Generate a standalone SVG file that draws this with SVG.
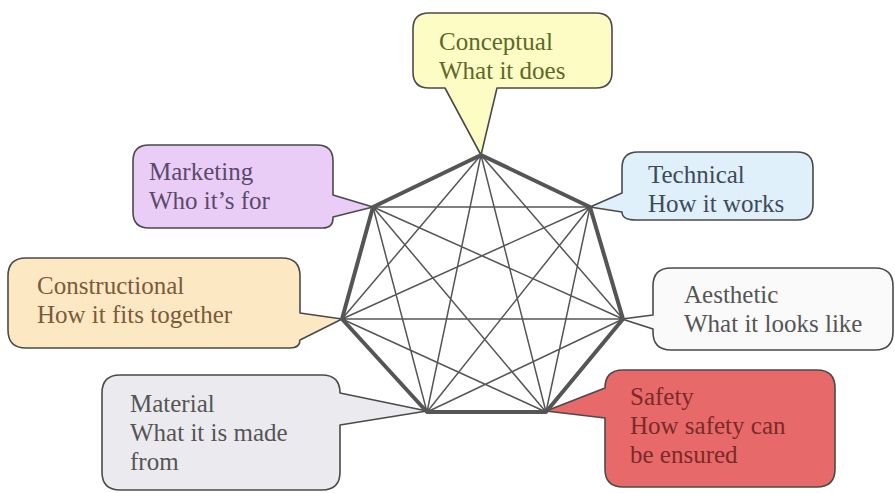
<svg xmlns="http://www.w3.org/2000/svg" width="895" height="493" viewBox="0 0 895 493">
<style>
.b{stroke:#4a4a4a;stroke-width:1.6;stroke-linejoin:round}
.t{font-family:'Liberation Serif','Times New Roman',serif;font-size:25px}
.edge{stroke:#555;stroke-width:4;fill:none;stroke-linejoin:round}
.diag{stroke:#555;stroke-width:1.5;fill:none}
</style>
<rect width="895" height="493" fill="#fff"/>
<g id="conceptual">
<path class="b" fill="#fcfcc4" d="M429,13 H596 Q612,13 612,29 V72 Q612,88 596,88 H497 L481,155 L445,88 H429 Q413,88 413,72 V29 Q413,13 429,13 Z"/>
<text class="t" x="439" y="50" fill="#5c6a28">Conceptual</text>
<text class="t" x="439" y="79" fill="#5c6a28">What it does</text>
</g>
<g id="marketing">
<path class="b" fill="#e9cdf7" d="M149,145 H317 Q333,145 333,161 V195 L373,207 L333,217 V218 Q333,228 323,228 H149 Q133,228 133,212 V161 Q133,145 149,145 Z"/>
<text class="t" x="149" y="180" fill="#5a4a6a">Marketing</text>
<text class="t" x="149" y="209" fill="#5a4a6a">Who it&#8217;s for</text>
</g>
<g id="technical">
<path class="b" fill="#dff0fb" d="M638,152 H797 Q813,152 813,168 V204 Q813,220 797,220 H636 Q622,220 622,212 L590,207 L622,193 V168 Q622,152 638,152 Z"/>
<text class="t" x="648" y="183" fill="#3d4a5a">Technical</text>
<text class="t" x="648" y="212" fill="#3d4a5a">How it works</text>
</g>
<g id="constructional">
<path class="b" fill="#fde8c4" d="M26,258 H282 Q300,258 300,276 V313 L342,319 L300,340 Q300,348 290,348 H26 Q8,348 8,330 V276 Q8,258 26,258 Z"/>
<text class="t" x="37" y="294" fill="#7a5a3a">Constructional</text>
<text class="t" x="37" y="323" fill="#7a5a3a">How it fits together</text>
</g>
<g id="aesthetic">
<path class="b" fill="#fafafa" d="M671,268 H875 Q893,268 893,286 V332 Q893,350 875,350 H671 Q653,350 653,332 V329 L622,319 L653,315 V286 Q653,268 671,268 Z"/>
<text class="t" x="684" y="303" fill="#555555">Aesthetic</text>
<text class="t" x="684" y="332" fill="#555555">What it looks like</text>
</g>
<g id="material">
<path class="b" fill="#ebebef" d="M120,375 H322 Q340,375 340,393 L427,411 L340,425 V472 Q340,490 322,490 H120 Q102,490 102,472 V393 Q102,375 120,375 Z"/>
<text class="t" x="130" y="412" fill="#555555">Material</text>
<text class="t" x="130" y="441" fill="#555555">What it is made</text>
<text class="t" x="130" y="470" fill="#555555">from</text>
</g>
<g id="safety">
<path class="b" fill="#e8696a" d="M623,370 H817 Q835,370 835,388 V469 Q835,487 817,487 H623 Q605,487 605,469 V418 L546,411 L605,388 Q605,370 623,370 Z"/>
<text class="t" x="630" y="405" fill="#7a2a28">Safety</text>
<text class="t" x="630" y="434" fill="#7a2a28">How safety can</text>
<text class="t" x="630" y="463" fill="#7a2a28">be ensured</text>
</g>
<g id="connectors">
<path class="diag" d="M481,155 L623,319 M481,155 L546,412 M481,155 L427,412 M481,155 L342,319 M590,207 L373,207 M590,207 L342,319 M590,207 L427,412 M590,207 L546,412 M623,319 L342,319 M623,319 L373,207 M623,319 L427,412 M546,412 L373,207 M546,412 L342,319 M427,412 L373,207"/>
<path class="edge" d="M481,155 L590,207 L623,319 L546,412 L427,412 L342,319 L373,207 Z"/>
</g>
</svg>
